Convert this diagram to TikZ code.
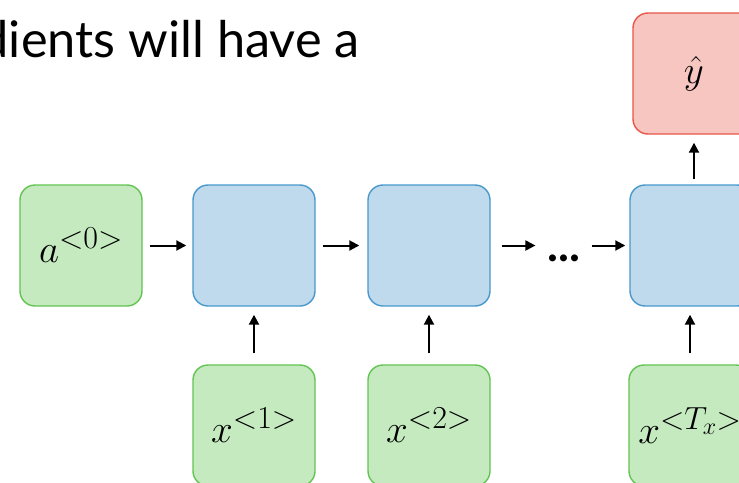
\RequirePackage{fix-cm}
\documentclass[tikz,border=0pt]{standalone}
\usepackage{fontspec}
\setmainfont{Lato}
\usetikzlibrary{arrows.meta}
\DeclareMathSizes{39}{39}{32}{24}
\definecolor{gfill}{RGB}{197,234,192}
\definecolor{gline}{RGB}{98,196,82}
\definecolor{bfill}{RGB}{191,218,236}
\definecolor{bline}{RGB}{72,152,204}
\definecolor{rfill}{RGB}{248,198,192}
\definecolor{rline}{RGB}{232,86,74}
\tikzset{
  cell/.style={rounded corners=15pt, minimum width=122pt, minimum height=121pt,
    inner sep=0pt, line width=1.4pt, font=\fontsize{39}{46}\selectfont},
  inbox/.style={cell, draw=gline, fill=gfill},
  hidbox/.style={cell, draw=bline, fill=bfill},
  outbox/.style={cell, draw=rline, fill=rfill},
  link/.style={line width=2pt, -{Triangle[length=10pt,width=10pt]}},
}
\begin{document}
\begin{tikzpicture}[x=1pt,y=-1pt]
\clip (0,0) rectangle (739,482);
\useasboundingbox (0,0) rectangle (739,482);
\node[anchor=base east, inner sep=0pt, font=\fontsize{50.5}{58}\selectfont] (title) at (360,57) {dients will have a};

\node[inbox]  (a0) at (81,245.5) {$a^{<0>}$};
\node[hidbox] (h1) at (254,245.5) {};
\node[hidbox] (h2) at (429,245.5) {};
\node[hidbox] (h3) at (691,245.5) {};
\node[outbox] (yh) at (694,73.5) {$\hat{y}$};
\node[inbox]  (x1) at (254,425.5) {$x^{<1>}$};
\node[inbox]  (x2) at (429,425.5) {$x^{<2>}$};
\node[inbox]  (xT) at (690,425.5) {$x^{<T_x>}$};
\node[anchor=base, inner sep=0pt, font=\fontsize{46}{52}\selectfont\bfseries] (dots) at (564,261) {...};

\draw[link, shorten <=7pt, shorten >=6pt] (a0.east) -- (h1.west);
\draw[link, shorten <=7pt, shorten >=8pt] (h1.east) -- (h2.west);
\draw[link, shorten <=11pt, shorten >=12pt] (h2.east) -- (dots.west |- h2.east);
\draw[link, shorten <=11pt, shorten >=4pt] (dots.east |- h3.west) -- (h3.west);
\draw[link, shorten <=11pt, shorten >=8pt] (x1.north) -- (h1.south);
\draw[link, shorten <=11pt, shorten >=8pt] (x2.north) -- (h2.south);
\draw[link, shorten <=11pt, shorten >=8pt] (xT.north) -- (xT.north |- h3.south);
\draw[link, shorten <=5pt, shorten >=8pt] (h3.north -| yh.south) -- (yh.south);
\end{tikzpicture}
\end{document}
